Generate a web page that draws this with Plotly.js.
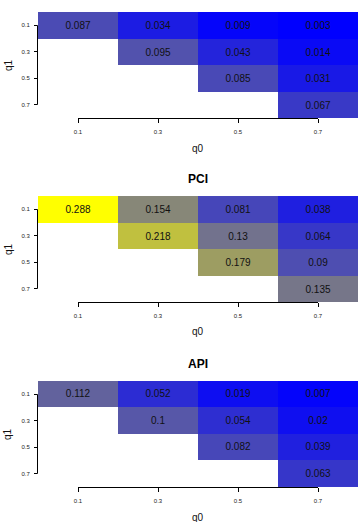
<!DOCTYPE html>
<html>
<head>
<meta charset="utf-8">
<script src="https://cdn.plot.ly/plotly-3.0.1.min.js"></script>
<style>
  html, body { margin: 0; padding: 0; background: #fff; }
  #chart { width: 363px; height: 522px; }
</style>
</head>
<body>
<div id="chart"></div>
<script>
// grid of parameters
const q0 = [0.1, 0.3, 0.5, 0.7];
const q1 = [0.1, 0.3, 0.5, 0.7];
const tickText = ['0.1', '0.3', '0.5', '0.7'];

// rows follow q1, columns follow q0 (upper triangle only)
const zTop = [
  [0.087, 0.034, 0.009, 0.003],
  [null,  0.095, 0.043, 0.014],
  [null,  null,  0.085, 0.031],
  [null,  null,  null,  0.067]
];
const zPCI = [
  [0.288, 0.154, 0.081, 0.038],
  [null,  0.218, 0.13,  0.064],
  [null,  null,  0.179, 0.09],
  [null,  null,  null,  0.135]
];
const zAPI = [
  [0.112, 0.052, 0.019, 0.007],
  [null,  0.1,   0.054, 0.02],
  [null,  null,  0.082, 0.039],
  [null,  null,  null,  0.063]
];
const panelTitles = ['', 'PCI', 'API'];
const panels = [zTop, zPCI, zAPI];

// one shared colour range over all three panels
const allVals = panels.flat(2).filter(v => v !== null);
const zmin = Math.min(...allVals);
const zmax = Math.max(...allVals);

const FONT = 'Liberation Sans, Arial, sans-serif';
const W = 363, H = 522, ML = 38, MR = 5, MT = 12, MB = 35;
const plotW = W - ML - MR;
const plotH = H - MT - MB;
const domains = [[0.7768, 1], [0.3895, 0.6126], [0, 0.2232]];
const xRange = [0, 0.8];
const yRange = [0.8, 0];
const AXIS_COLOR = '#000000';

// position of a data value as a fraction of an axis span
const frac = (v, r) => (v - r[0]) / (r[1] - r[0]);

const traces = [];
panels.forEach((z, i) => {
  const sfx = i === 0 ? '' : String(i + 1);
  traces.push({
    type: 'heatmap',
    x: q0,
    y: q1,
    z: z,
    text: z.map(r => r.map(v => v === null ? '' : String(v))),
    texttemplate: '%{text}',
    textfont: { family: FONT, size: 10, color: '#111' },
    zmin: zmin,
    zmax: zmax,
    colorscale: [[0, '#0000ff'], [1, '#ffff00']],
    showscale: false,
    xaxis: 'x' + sfx,
    yaxis: 'y' + sfx
  });
  // empty trace that attaches the tick-span axis (line + tick marks) to the panel
  traces.push({
    type: 'scatter',
    mode: 'lines',
    x: [q0[0], q0[q0.length - 1]],
    y: [null, null],
    hoverinfo: 'skip',
    showlegend: false,
    xaxis: 'x' + (4 + i),
    yaxis: 'y' + sfx
  });
});

const layout = {
  width: W,
  height: H,
  margin: { l: ML, r: MR, t: MT, b: MB },
  paper_bgcolor: '#ffffff',
  plot_bgcolor: 'rgba(0,0,0,0)',
  showlegend: false,
  shapes: [],
  annotations: []
};

panels.forEach((z, i) => {
  const sfx = i === 0 ? '' : String(i + 1);
  const dom = domains[i];

  // label axis for the heatmap cells
  layout['xaxis' + sfx] = {
    domain: [0, 1],
    anchor: 'y' + sfx,
    range: xRange,
    tickmode: 'array',
    tickvals: q0,
    ticktext: tickText,
    ticks: '',
    ticklabelstandoff: 9,
    tickfont: { family: FONT, size: 6, color: '#222' },
    showline: false,
    showgrid: false,
    zeroline: false
  };
  // R-style axis: line and ticks only between the first and last tick
  layout['xaxis' + (4 + i)] = {
    domain: [frac(q0[0], xRange), frac(q0[q0.length - 1], xRange)],
    anchor: 'y' + sfx,
    range: [q0[0], q0[q0.length - 1]],
    tickmode: 'array',
    tickvals: q0,
    ticks: 'outside',
    ticklen: 4,
    tickwidth: 1,
    tickcolor: AXIS_COLOR,
    showticklabels: false,
    showline: true,
    linecolor: AXIS_COLOR,
    linewidth: 1,
    showgrid: false,
    zeroline: false
  };
  layout['yaxis' + sfx] = {
    domain: dom,
    anchor: 'x' + sfx,
    range: yRange,
    tickmode: 'array',
    tickvals: q1,
    ticktext: tickText,
    ticks: 'outside',
    ticklen: 3,
    tickwidth: 1,
    tickcolor: AXIS_COLOR,
    ticklabelstandoff: 3,
    tickfont: { family: FONT, size: 6, color: '#222' },
    showline: false,
    showgrid: false,
    zeroline: false
  };

  // vertical axis line spanning only the first to last tick
  const yFrac = v => dom[1] - (dom[1] - dom[0]) * frac(v, [yRange[1], yRange[0]]);
  layout.shapes.push({
    type: 'line', xref: 'paper', yref: 'paper',
    x0: -0.5 / plotW, x1: -0.5 / plotW,
    y0: yFrac(q1[0]), y1: yFrac(q1[q1.length - 1]),
    line: { color: AXIS_COLOR, width: 1 }
  });

  // axis titles
  layout.annotations.push({
    text: 'q0',
    xref: 'paper', yref: 'paper',
    x: 0.5, y: dom[0] - 30 / plotH,
    xanchor: 'center', yanchor: 'middle',
    showarrow: false,
    font: { family: FONT, size: 10, color: '#111' }
  });
  layout.annotations.push({
    text: 'q1',
    xref: 'paper', yref: 'paper',
    x: (8 - ML) / plotW, y: (dom[0] + dom[1]) / 2,
    xanchor: 'center', yanchor: 'middle',
    textangle: -90,
    showarrow: false,
    font: { family: FONT, size: 10, color: '#111' }
  });

  // panel title
  if (panelTitles[i]) {
    layout.annotations.push({
      text: '<b>' + panelTitles[i] + '</b>',
      xref: 'paper', yref: 'paper',
      x: 0.5, y: dom[1] + 17 / plotH,
      xanchor: 'center', yanchor: 'middle',
      showarrow: false,
      font: { family: FONT, size: 12, color: '#000' }
    });
  }
});

Plotly.newPlot('chart', traces, layout, { displayModeBar: false, staticPlot: true });
</script>
</body>
</html>
